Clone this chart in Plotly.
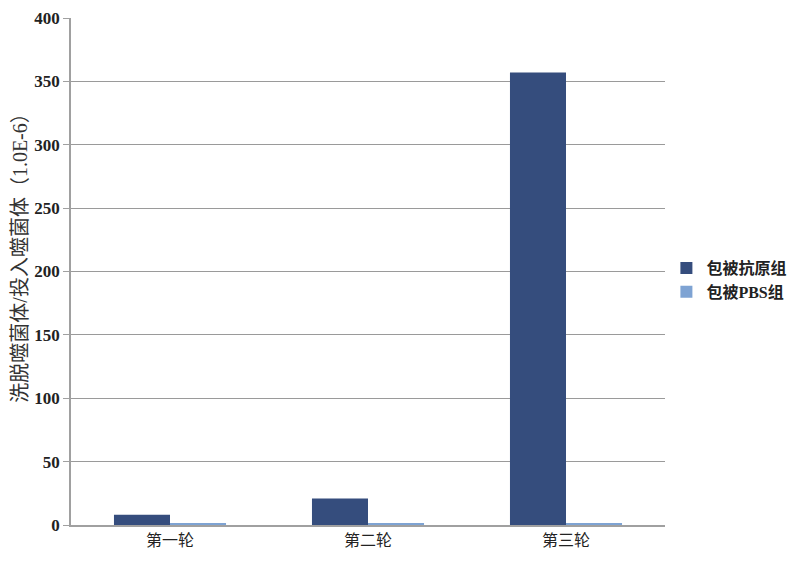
import plotly.graph_objects as go

categories = ["第一轮", "第二轮", "第三轮"]
antigen_values = [8, 21, 357]
pbs_values = [1.2, 1.0, 1.0]
series_names = ["包被抗原组", "包被PBS组"]
y_ticks = [0, 50, 100, 150, 200, 250, 300, 350, 400]
y_title = "洗脱噬菌体/投入噬菌体（1.0E-6）"

fig = go.Figure()
fig.add_trace(go.Bar(x=categories, y=antigen_values, name=series_names[0],
                     marker=dict(color="#354d7d", line=dict(width=0))))
fig.add_trace(go.Bar(x=categories, y=pbs_values, name=series_names[1],
                     marker=dict(color="#7ea3d3", line=dict(width=0))))

fig.update_layout(
    width=800, height=561,
    margin=dict(l=63, r=143, t=10, b=44, autoexpand=False),
    plot_bgcolor="white", paper_bgcolor="white",
    barmode="group", bargap=0.434, bargroupgap=0,
    font=dict(family="Liberation Serif, Noto Sans CJK SC", color="#222"),
    legend=dict(xref="container", yref="container", x=0.823, y=0.515,
                yanchor="middle", xanchor="left",
                font=dict(size=16, family="Liberation Serif, Noto Sans CJK SC", color="#222", weight="bold"),
                itemwidth=30, tracegroupgap=4),
    showlegend=True,
    annotations=[dict(text=y_title, xref="paper", yref="paper",
                      x=-0.086, y=0.537, xanchor="center", yanchor="middle",
                      textangle=-90, showarrow=False,
                      font=dict(size=20, family="Liberation Serif, Noto Sans CJK SC", color="#333"))],
)
fig.update_xaxes(showline=True, linecolor="#a0a0a0", linewidth=1.5,
                 tickfont=dict(size=16, family="Liberation Serif, Noto Sans CJK SC"),
                 ticks="", showgrid=False, automargin=False)
fig.update_yaxes(range=[0, 400], tickvals=y_ticks, automargin=False,
                 showline=True, linecolor="#a0a0a0", linewidth=1.5,
                 ticks="outside", ticklen=6, tickcolor="#a0a0a0",
                 gridcolor="#9a9a9a", gridwidth=1, ticklabeloverflow="allow",
                 tickfont=dict(size=17, family="Liberation Serif", color="#222", weight="bold"),
                 zeroline=False)

fig.write_html("out.html")
